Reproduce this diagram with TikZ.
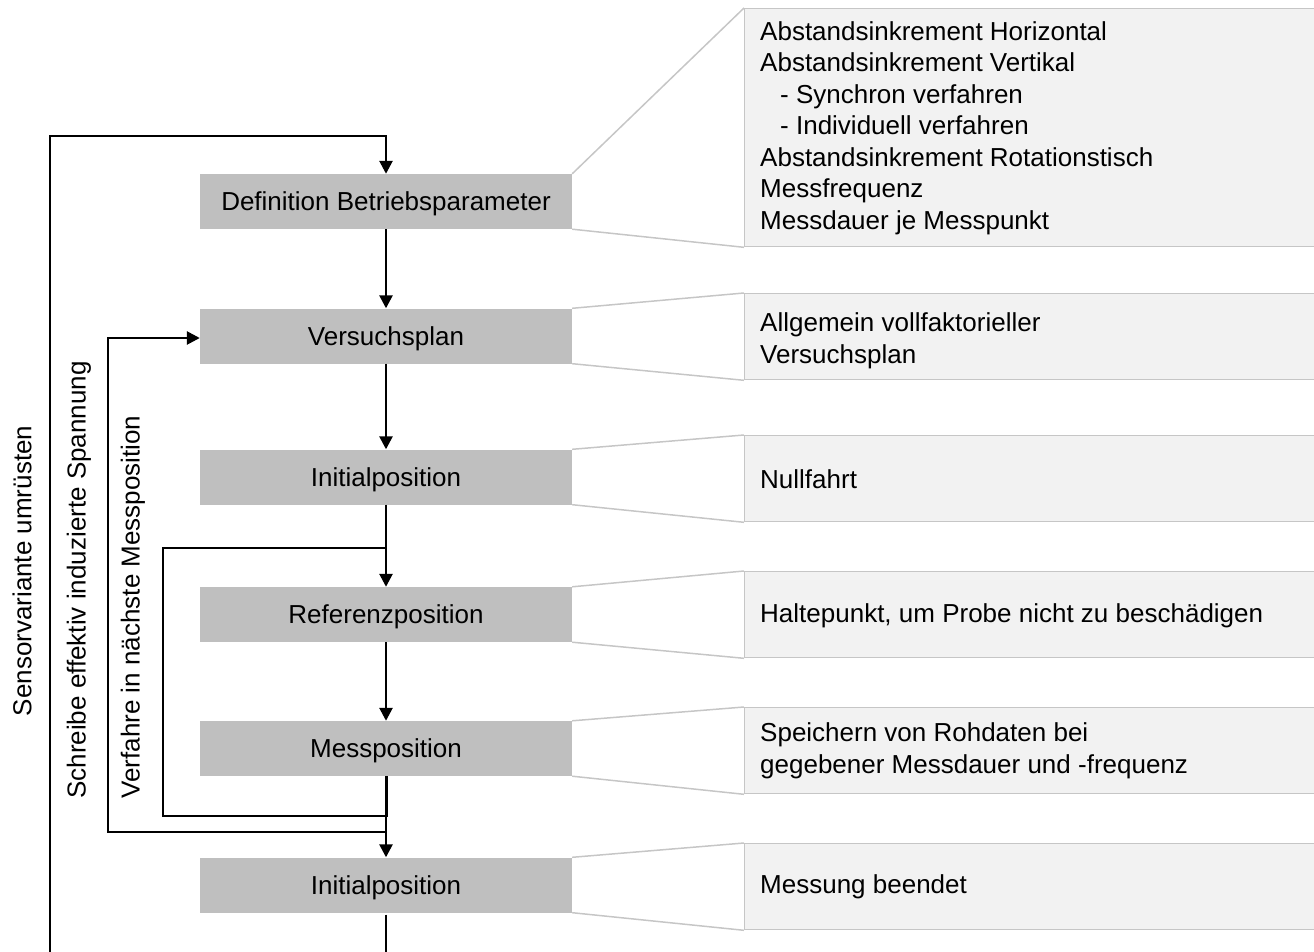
\documentclass[tikz,border=0pt]{standalone}
\usepackage{fontspec}
\setmainfont{Liberation Sans}
\usetikzlibrary{arrows.meta}
\definecolor{stepgray}{HTML}{BFBFBF}
\definecolor{notefill}{HTML}{F2F2F2}
\definecolor{noteline}{HTML}{C6C6C6}
\begin{document}
\begin{tikzpicture}[x=1pt,y=-1pt,
  every node/.style={font=\fontsize{26pt}{31.5pt}\selectfont, inner sep=0pt},
  stepbox/.style={fill=stepgray, minimum width=372pt, minimum height=55pt,
                  text height=18.6pt, text depth=0pt},
  notebox/.style={fill=notefill, draw=noteline, line width=1.3pt, minimum width=590pt, anchor=north west},
  notetext/.style={anchor=west, align=left},
  flow/.style={line width=2.6pt, -{Triangle[length=13pt,width=13pt]}},
  plain/.style={line width=2.6pt},
  fan/.style={draw=noteline, line width=1.5pt}
]
\useasboundingbox (0,0) rectangle (1314,952);

% process steps
\node[stepbox] (b1) at (386,201.5) {Definition Betriebsparameter};
\node[stepbox] (b2) at (386,336)   {Versuchsplan};
\node[stepbox] (b3) at (386,477)   {Initialposition};
\node[stepbox] (b4) at (386,614.5) {Referenzposition};
\node[stepbox] (b5) at (386,748.5) {Messposition};
\node[stepbox] (b6) at (386,885)   {Initialposition};

% detail panels
\node[notebox, minimum height=238pt] (p1) at (744,8)   {};
\node[notebox, minimum height=86pt]  (p2) at (744,293) {};
\node[notebox, minimum height=86pt]  (p3) at (744,435) {};
\node[notebox, minimum height=86pt]  (p4) at (744,571) {};
\node[notebox, minimum height=86pt]  (p5) at (744,707) {};
\node[notebox, minimum height=86pt]  (p6) at (744,843) {};

% fans from each step to its panel
\foreach \i in {1,...,6}{
  \draw[fan] (b\i.north east) -- (p\i.north west);
  \draw[fan] (b\i.south east) -- (p\i.south west);
}

% panel texts
\node[notetext] (t1) at (760,128) {Abstandsinkrement Horizontal\\
  Abstandsinkrement Vertikal\\
  \hspace*{20pt}- Synchron verfahren\\
  \hspace*{20pt}- Individuell verfahren\\
  Abstandsinkrement Rotationstisch\\
  Messfrequenz\\
  Messdauer je Messpunkt};
\node[notetext] (t2) at (760,341) {Allgemein vollfaktorieller\\ Versuchsplan};
\node[notetext] (t3) at (760,479) {Nullfahrt};
\node[notetext] (t4) at (760,615.5) {Haltepunkt, um Probe nicht zu beschädigen};
\node[notetext] (t5) at (760,751) {Speichern von Rohdaten bei\\ gegebener Messdauer und -frequenz};
\node[notetext] (t6) at (760,886.5) {Messung beendet};

% loop corner points
\coordinate (vjoin)   at (386,548);
\coordinate (vsplit)  at (386,816);
\coordinate (vcorner) at (163,548);
\coordinate (ssplit)  at (386,832);
\coordinate (scorner) at (108,338);
\coordinate (obot)    at (386,953);
\coordinate (oleft)   at (50,136);

% main flow
\draw[flow] (b1) -- (b2);
\draw[flow] (b2) -- (b3);
\draw[flow] (b3) -- (b4);
\draw[flow] (b4) -- (b5);
\draw[flow] (b5) -- (b6);

% inner loop: next measuring position
\draw[plain] ([xshift=1pt]b5.south) -- ([xshift=1pt]vsplit) -| (vcorner) -- (vjoin);
% middle loop: write induced voltage
\draw[flow] (ssplit) -| (scorner) -- (scorner -| b2.west);
% outer loop: change sensor variant
\draw[flow] ([yshift=-2pt]b6.south) -- (obot) -| (oleft) -| (b1.north);

% loop labels
\node[rotate=90] (l1) at (22,571) {Sensorvariante umrüsten};
\node[rotate=90] (l2) at (79,580) {Schreibe effektiv induzierte Spannung};
\node[rotate=90] (l3) at (133,607) {Verfahre in nächste Messposition};
\end{tikzpicture}
\end{document}
